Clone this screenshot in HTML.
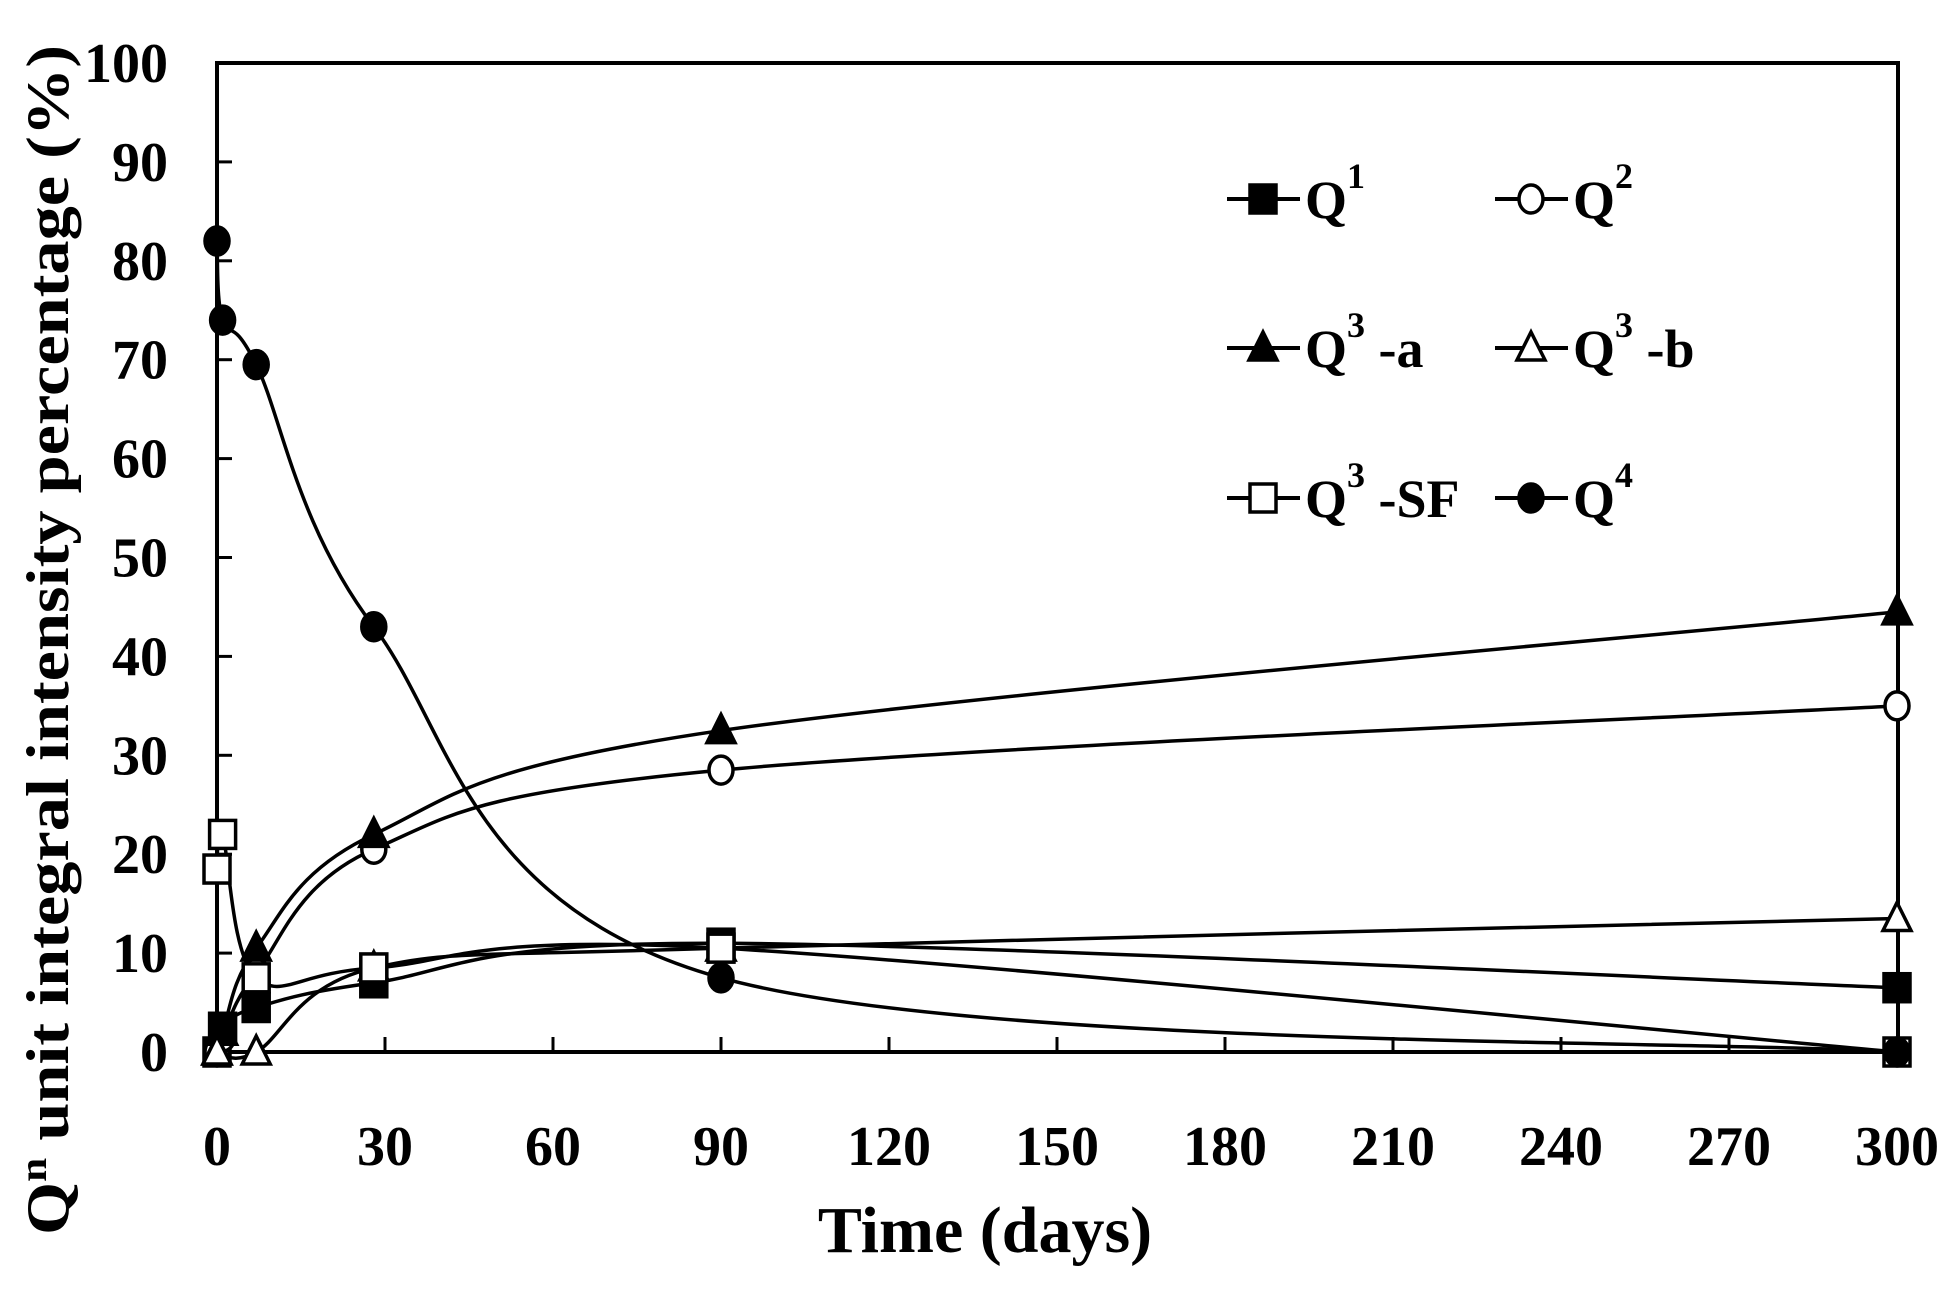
<!DOCTYPE html>
<html><head><meta charset="utf-8"><style>
html,body{margin:0;padding:0;background:#fff;}
svg{display:block;}
text{font-family:"Liberation Serif",serif;font-weight:bold;fill:#000;}
</style></head><body>
<svg id="s" width="1958" height="1294" viewBox="0 0 1958 1294" xmlns="http://www.w3.org/2000/svg">
<rect x="217" y="63" width="1681" height="989" fill="none" stroke="#000" stroke-width="4"/>
<g id="ticks" stroke="#000" stroke-width="3"></g>
<g id="labels" font-size="56"></g>
<g id="series" fill="none" stroke="#000" stroke-width="3.5"></g>
<g id="marks"></g>
<text x="985" y="1252" font-size="66" text-anchor="middle">Time (days)</text>
<text transform="translate(68,640) rotate(-90)" font-size="60" text-anchor="middle" textLength="1190" lengthAdjust="spacingAndGlyphs">Q<tspan font-size="38" dy="-22">n</tspan><tspan dy="22"> unit integral intensity percentage (%)</tspan></text>
<g id="legend" font-size="54"></g>
</svg>
<script>
var NS="http://www.w3.org/2000/svg";
function X(d){return 217+d*5.6;}
function Y(v){return 1052-v*9.89;}
function el(p,t,a){var e=document.createElementNS(NS,t);for(var k in a)e.setAttribute(k,a[k]);p.appendChild(e);return e;}
var tk=document.getElementById('ticks'),lb=document.getElementById('labels');
for(var v=0;v<=100;v+=10){var y=Y(v);el(tk,'line',{x1:217,y1:y,x2:232,y2:y});var t=el(lb,'text',{x:168,y:y+19,'text-anchor':'end'});t.textContent=v;}
for(var d=0;d<=300;d+=30){var x=X(d);el(tk,'line',{x1:x,y1:1052,x2:x,y2:1037});var t=el(lb,'text',{x:x,y:1165,'text-anchor':'middle'});t.textContent=d;}
var S=[
 {m:'sq',f:1,p:[[0,0],[1,2.5],[7,4.5],[28,7],[90,11],[300,6.5]]},
 {m:'ci',f:0,p:[[0,0],[1,1.5],[7,8],[28,20.5],[90,28.5],[300,35]]},
 {m:'tr',f:1,p:[[0,0],[1,2],[7,10.5],[28,22],[90,32.5],[300,44.5]]},
 {m:'tr',f:0,p:[[0,0],[7,0],[28,8.5],[90,10.5],[300,13.5]]},
 {m:'sq',f:0,p:[[0,18.5],[1,22],[7,7.5],[28,8.5],[90,10.5],[300,0]]},
 {m:'ci',f:1,p:[[0,82],[1,74],[7,69.5],[28,43],[90,7.5],[300,0]]}
];
var sg=document.getElementById('series'),mg=document.getElementById('marks');
function mark(g,m,f,x,y){
 var a={fill:f?'#000':'#fff',stroke:'#000','stroke-width':3.5};
 if(m=='sq'){a.x=x-13;a.y=y-14;a.width=26;a.height=28;el(g,'rect',a);}
 else if(m=='ci'){a.cx=x;a.cy=y;a.rx=12;a.ry=14;el(g,'ellipse',a);}
 else {a.points=(x)+','+(y-16)+' '+(x-14)+','+(y+12)+' '+(x+14)+','+(y+12);el(g,'polygon',a);}
}
S.forEach(function(s){
 var P=s.p.map(function(q){return [X(q[0]),Y(q[1])];});
 var d='M'+P[0][0]+','+P[0][1];
 for(var i=0;i<P.length-1;i++){
  var p0=P[Math.max(0,i-1)],p1=P[i],p2=P[i+1],p3=P[Math.min(P.length-1,i+2)];
  var c1=[p1[0]+(p2[0]-p0[0])/6,p1[1]+(p2[1]-p0[1])/6],c2=[p2[0]-(p3[0]-p1[0])/6,p2[1]-(p3[1]-p1[1])/6];
  d+=' C'+c1+' '+c2+' '+p2;
 }
 el(sg,'path',{d:d});
 P.forEach(function(p){mark(mg,s.m,s.f,p[0],p[1]);});
});
var lg=document.getElementById('legend');
var L=[[1227,199,'sq',1,'1',''],[1495,199,'ci',0,'2',''],[1227,348,'tr',1,'3',' -a'],[1495,348,'tr',0,'3',' -b'],[1227,498,'sq',0,'3',' -SF'],[1495,498,'ci',1,'4','']];
L.forEach(function(l){
 el(lg,'line',{x1:l[0],y1:l[1],x2:l[0]+73,y2:l[1],stroke:'#000','stroke-width':4});
 mark(lg,l[2],l[3],l[0]+36,l[1]);
 var t=el(lg,'text',{x:l[0]+78,y:l[1]+19});
 t.innerHTML='Q<tspan font-size="36" dy="-30">'+l[4]+'</tspan><tspan dy="30">'+l[5]+'</tspan>';
});
</script>
</body></html>
